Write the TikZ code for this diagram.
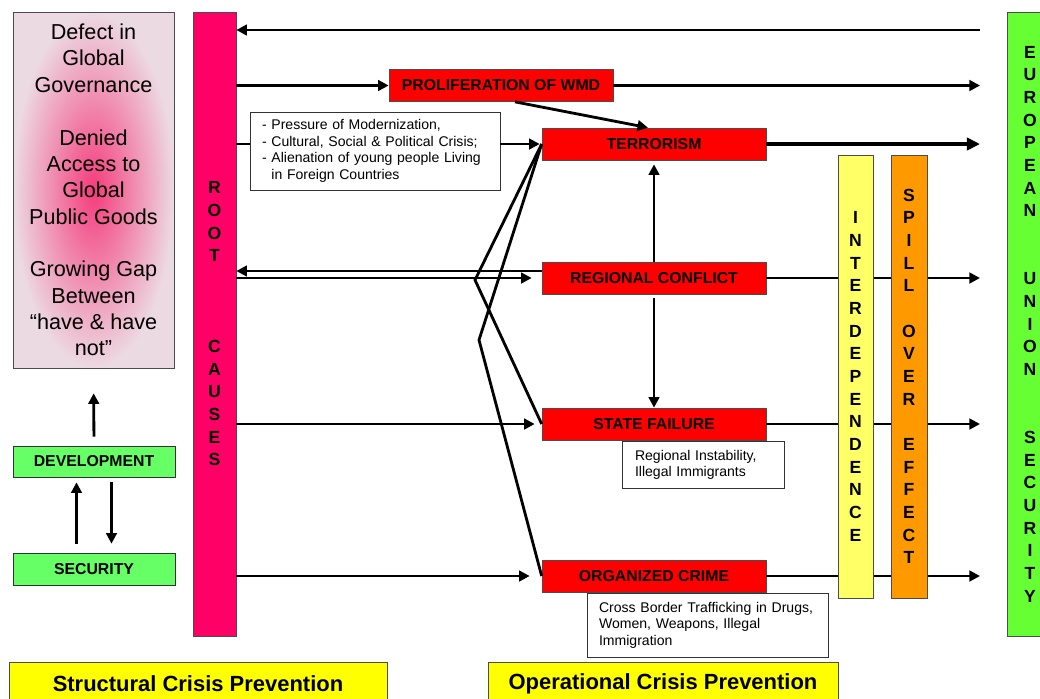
\documentclass[tikz,border=0pt]{standalone}
\usepackage{fontspec}
\setmainfont{Liberation Sans}
\usetikzlibrary{arrows.meta}
\definecolor{rootpink}{RGB}{255,0,102}
\definecolor{boxred}{RGB}{255,0,0}
\definecolor{devgreen}{RGB}{102,255,102}
\definecolor{eugreen}{RGB}{102,255,51}
\definecolor{baryellow}{RGB}{255,255,102}
\definecolor{barorange}{RGB}{255,153,0}
\definecolor{lblyellow}{RGB}{255,255,0}
\definecolor{paleout}{RGB}{236,218,226}
\definecolor{palein}{RGB}{244,60,125}
\tikzset{rb/.append style={draw=black!70, fill=boxred, minimum width=4.48cm, minimum height=0.64cm, inner sep=0pt, font=\fontsize{9}{11}\selectfont\bfseries}}
\tikzset{tb/.append style={draw=black!80, fill=white, align=left, inner ysep=0pt, font=\fontsize{8}{9.4}\selectfont}}
\tikzset{vb/.append style={draw=black!70, inner sep=0pt, align=center, font=\fontsize{10}{12.9}\selectfont\bfseries}}
\tikzset{gb/.append style={draw=black!80, fill=devgreen, minimum width=3.24cm, inner sep=0pt, font=\fontsize{9}{11}\selectfont\bfseries}}
\tikzset{lb/.append style={draw=black!70, fill=lblyellow, minimum height=0.88cm, inner sep=0pt, font=\fontsize{12.5}{15}\selectfont\bfseries}}
\tikzset{ar/.append style={line width=1.6pt, -{Triangle[length=6pt,width=6pt]}}}

\begin{document}
\begin{tikzpicture}[x=0.02cm, y=-0.02cm]
                \path[use as bounding box, fill=white] (0,0) rectangle (1040,698);
                % left side
                \node[draw=black!70, inner color=palein, outer color=paleout, minimum width=3.22cm, minimum height=7.12cm, align=center, font=\fontsize{12.3}{15}\selectfont] (defect) at (93.5,190) {Defect in\\Global\\Governance\\[15pt]Denied\\Access to\\Global\\Public Goods\\[15pt]Growing Gap\\Between\\“have \& have\\not”};
                \node[gb, minimum height=0.62cm] (dev) at (94,461.5) {DEVELOPMENT};
                \node[gb, minimum height=0.64cm] (sec) at (94,569) {SECURITY};
                \node[vb, fill=rootpink, minimum width=0.86cm, minimum height=12.48cm] (root) at (214.5,324) {R\\O\\O\\T\\[38.7pt]C\\A\\U\\S\\E\\S};
                \node[vb, fill=eugreen, minimum width=0.92cm, minimum height=12.48cm] (eu) at (1030,324) {E\\U\\R\\O\\P\\E\\A\\N\\[25.8pt]U\\N\\I\\O\\N\\[25.8pt]S\\E\\C\\U\\R\\I\\T\\Y};
                % threats
                \node[rb] (wmd) at (501,85.5) {PROLIFERATION OF WMD};
                \node[rb] (terr) at (654,144) {TERRORISM};
                \node[rb] (reg) at (654,278) {REGIONAL CONFLICT};
                \node[rb] (state) at (654,424) {STATE FAILURE};
                \node[rb] (crime) at (654,576) {ORGANIZED CRIME};
                \node[tb, text width=4.52cm, inner xsep=0.24cm, minimum height=1.56cm] (press) at (375,151) {- Pressure of Modernization,\\- Cultural, Social \& Political Crisis;\\- Alienation of young people Living\\\phantom{- }in Foreign Countries};
                \node[tb, text width=2.72cm, inner xsep=0.26cm, minimum height=0.94cm, font=\fontsize{8}{9.1}\selectfont] (instab) at (703,464.5) {Regional Instability,\\Illegal Immigrants};
                \node[tb, text width=4.34cm, inner xsep=0.24cm, minimum height=1.28cm, font=\fontsize{8}{9.4}\selectfont] (traff) at (707.5,625) {Cross Border Trafficking in Drugs,\\Women, Weapons, Illegal\\Immigration};
                \node[lb, minimum width=7.56cm] (struct) at (198,684) {Structural Crisis Prevention};
                \node[lb, minimum width=7cm] (oper) at (663,684) {Operational Crisis Prevention};
                \coordinate (tr) at (980,30);
                \coordinate (rx) at (980,0);
                \coordinate (k1) at (475,280);
                \coordinate (k2) at (479,340);
                \coordinate (regU) at ([yshift=0.14cm]reg.west);
                % connectors
                \draw[ar] (tr) -- (root.east |- tr);
                \draw[ar] (root.east |- wmd.west) -- (wmd.west);
                \draw[ar] (wmd.east) -- (wmd.east -| rx);
                \draw[ar] ([xshift=0.28cm]wmd.south) -- ([xshift=-0.12cm]terr.north);
                \draw[line width=1.6pt] (root.east |- terr.west) -- (press.west |- terr.west);
                \draw[ar, shorten >=0.04cm] (press.east |- terr.west) -- (terr.west);
                \draw[line width=2.2pt, -{Triangle[length=7.5pt,width=7pt]}] (terr.east) -- (terr.east -| rx);
                \draw[ar] (regU) -- (root.east |- regU);
                \draw[ar, shorten >=0.2cm] (root.east |- reg.west) -- (reg.west);
                \draw[ar] (reg.east) -- (reg.east -| rx);
                \draw[ar, shorten >=0.08cm] (reg.north) -- (terr.south);
                \draw[ar, shorten <=0.08cm] (reg.south) -- (state.north);
                \draw[ar, shorten >=0.14cm] (root.east |- state.west) -- (state.west);
                \draw[ar] (state.east) -- (state.east -| rx);
                \draw[ar, shorten >=0.24cm] (root.east |- crime.west) -- (crime.west);
                \draw[ar] (crime.east) -- (crime.east -| rx);
                \draw[line width=1.6pt] (state.west) -- (k1) -- (terr.west);
                \draw[line width=1.6pt] (crime.west) -- (k2) -- (terr.west);
                \draw[ar, shorten <=0.18cm, shorten >=0.5cm] (dev.north) -- (defect.south);
                \draw[ar, shorten <=0.18cm, shorten >=0.1cm] ([xshift=-0.35cm]sec.north) -- ([xshift=-0.35cm]dev.south);
                \draw[ar, shorten <=0.1cm, shorten >=0.18cm] ([xshift=0.35cm]dev.south) -- ([xshift=0.35cm]sec.north);
                % bars over the lines
                \node[vb, fill=baryellow, minimum width=0.7cm, minimum height=8.86cm] (inter) at (855.5,376.5) {I\\N\\T\\E\\R\\D\\E\\P\\E\\N\\D\\E\\N\\C\\E};
                \node[vb, fill=barorange, minimum width=0.72cm, minimum height=8.86cm] (spill) at (909,376.5) {S\\P\\I\\L\\L\\[12.9pt]O\\V\\E\\R\\[12.9pt]E\\F\\F\\E\\C\\T};
            \end{tikzpicture}
\end{document}
